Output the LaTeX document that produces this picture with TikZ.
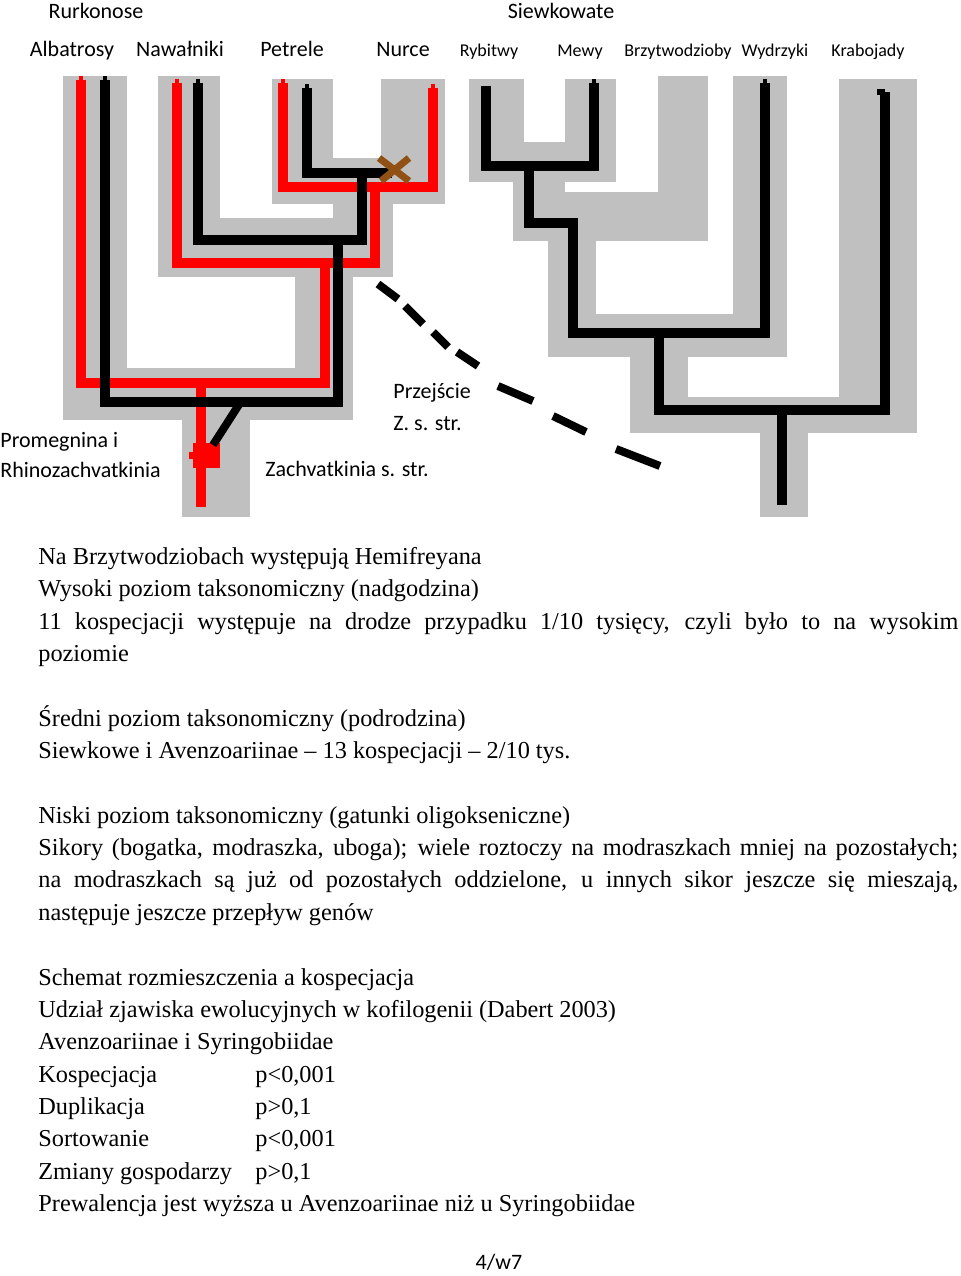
\documentclass[tikz,border=0pt]{standalone}
\usepackage{fontspec}
\setmainfont{Liberation Serif}
\newfontfamily\calibri{Carlito}
\definecolor{hostgray}{RGB}{192,192,192}
\definecolor{mitered}{RGB}{255,0,0}
\definecolor{mitebrown}{RGB}{145,80,20}
\tikzset{
  host/.style={fill=hostgray},
  redmite/.style={draw=mitered,line width=4.75pt,line join=miter},
  blackmite/.style={draw=black,line width=4.75pt,line join=miter},
  jump/.style={draw=black,line width=4pt},
  lost/.style={draw=mitebrown,line width=3.5pt},
  taxon/.style={font=\calibri\fontsize{11}{13}\selectfont,anchor=base,inner sep=0},
  smalltaxon/.style={font=\calibri\fontsize{9}{11}\selectfont,anchor=base,inner sep=0},
  mitename/.style={font=\calibri\fontsize{11}{13}\selectfont,anchor=base west,inner sep=0},
  bodytext/.style={font=\fontsize{12.15}{16}\selectfont,anchor=base west,inner sep=0}
}
\begin{document}
\begin{tikzpicture}[x=0.5pt,y=-0.5pt]
  \fill[white] (0,0) rectangle (960,1276);
  \useasboundingbox (0,0) rectangle (960,1276);
  % host tree: Rurkonose
  \foreach \xa/\ya/\xb/\yb in {63/76/127/420, 63/368/353/420, 182/420/250/517,
      158/76/220/277, 158/218/393/277, 295/277/353/368, 272/79/333/204,
      272/158/445/204, 381/79/445/204, 333/204/393/218} {
    \fill[host] (\xa,\ya) rectangle (\xb,\yb);
  }
  % host tree: Siewkowe
  \foreach \xa/\ya/\xb/\yb in {469/79/524/182, 565/79/616/182, 469/142/616/182,
      513/182/565/241, 513/192/708/241, 658/76/708/241, 548/241/596/357,
      733/76/787/357, 548/314/787/357, 630/357/688/433, 630/397/917/433,
      839/79/917/433, 760/433/808/517} {
    \fill[host] (\xa,\ya) rectangle (\xb,\yb);
  }
  % red mites
  \draw[redmite] (81,80) |- (325,383) -- (325,263);
  \draw[redmite] (177,83) |- (375,263) -- (375,187);
  \draw[redmite] (283,83) |- (433,187) -- (433,88);
  \draw[redmite] (201,383) -- (201,507);
  \fill[mitered] (193,443) rectangle (220,468);
  \fill[mitered] (189,452) rectangle (194,459);
  % black mites
  \draw[blackmite] (105,80) |- (338,402) -- (338,240);
  \draw[blackmite] (198,83) |- (362,240) -- (362,173);
  \draw[blackmite] (307,88) |- (392,173);
  \draw[jump] (240,403) -- (213,445);
  \draw[blackmite] (486,86) |- (594,166) -- (594,83);
  \draw[blackmite] (529,166) |- (573,223) |- (765,333) -- (765,83);
  \draw[blackmite] (659,333) |- (885,410) -- (885,92);
  \draw[blackmite] (782,410) -- (782,505);
  % tips
  \foreach \x/\y in {81/80, 177/83, 283/83, 433/88} {
    \fill[mitered] (\x-2,\y-4) rectangle (\x+2,\y);
  }
  \foreach \x/\y in {105/80, 198/83, 307/88, 594/83, 765/83} {
    \fill[black] (\x-2,\y-4) rectangle (\x+2,\y);
  }
  \fill[black] (877,89) rectangle (885,95);
  % extinct lineage
  \draw[lost] (379,158) -- (409,181);
  \draw[lost] (409,158) -- (381,181);
  % host switch
  \foreach \xa/\ya/\xb/\yb in {378/284/398/299, 405/306/423/324, 433/332/448/347,
      457/352/478/366, 498/386/533/401, 553/416/586/432, 616/449/660/466} {
    \draw[jump] (\xa,\ya) -- (\xb,\yb);
  }
  % host names
  \node[taxon] (rurkonose) at (96,18) {Rurkonose};
  \node[taxon] (siewkowate) at (561,18) {Siewkowate};
  \node[taxon] (albatrosy) at (72,56) {Albatrosy};
  \node[taxon] (nawalniki) at (180,56) {Nawałniki};
  \node[taxon] (petrele) at (292,56) {Petrele};
  \node[taxon] (nurce) at (403,56) {Nurce};
  \node[smalltaxon] (rybitwy) at (489,56) {Rybitwy};
  \node[smalltaxon] (mewy) at (580,56) {Mewy};
  \node[smalltaxon] (brzytwodzioby) at (678,56) {Brzytwodzioby};
  \node[smalltaxon] (wydrzyki) at (775,56) {Wydrzyki};
  \node[smalltaxon] (krabojady) at (868,56) {Krabojady};
  % mite names
  \node[mitename] (promegnina) at (0,447) {Promegnina i};
  \node[mitename] (rhino) at (0,477) {Rhinozachvatkinia};
  \node[mitename] (przejscie) at (393,398) {Przejście};
  \node[mitename] (zss) at (393,430) {Z. s. str.};
  \node[mitename] (zachv) at (265,476) {Zachvatkinia s. str.};
  % notes
  \node[bodytext] (l1) at (38,564) {Na Brzytwodziobach występują Hemifreyana};
  \node[bodytext] (l2) at (38,596) {Wysoki poziom taksonomiczny (nadgodzina)};
  \node[bodytext] (l3) at (38,629) {\makebox[460pt][s]{11 kospecjacji występuje na drodze przypadku 1/10 tysięcy, czyli było to na wysokim}};
  \node[bodytext] (l4) at (38,661) {poziomie};
  \node[bodytext] (l5) at (38,726) {Średni poziom taksonomiczny (podrodzina)};
  \node[bodytext] (l6) at (38,758) {Siewkowe i Avenzoariinae – 13 kospecjacji – 2/10 tys.};
  \node[bodytext] (l7) at (38,823) {Niski poziom taksonomiczny (gatunki oligokseniczne)};
  \node[bodytext] (l8) at (38,855) {\makebox[460pt][s]{Sikory (bogatka, modraszka, uboga); wiele roztoczy na modraszkach mniej na pozostałych;}};
  \node[bodytext] (l9) at (38,887) {\makebox[460pt][s]{na modraszkach są już od pozostałych oddzielone, u innych sikor jeszcze się mieszają,}};
  \node[bodytext] (l10) at (38,920) {następuje jeszcze przepływ genów};
  \node[bodytext] (l11) at (38,985) {Schemat rozmieszczenia a kospecjacja};
  \node[bodytext] (l12) at (38,1017) {Udział zjawiska ewolucyjnych w kofilogenii (Dabert 2003)};
  \node[bodytext] (l13) at (38,1049) {Avenzoariinae i Syringobiidae};
  \node[bodytext] (l14) at (38,1082) {\makebox[108.5pt][l]{Kospecjacja}p<0,001};
  \node[bodytext] (l15) at (38,1114) {\makebox[108.5pt][l]{Duplikacja}p>0,1};
  \node[bodytext] (l16) at (38,1146) {\makebox[108.5pt][l]{Sortowanie}p<0,001};
  \node[bodytext] (l17) at (38,1179) {\makebox[108.5pt][l]{Zmiany gospodarzy}p>0,1};
  \node[bodytext] (l18) at (38,1211) {Prewalencja jest wyższa u Avenzoariinae niż u Syringobiidae};
  \node[taxon] (page) at (499,1269) {4/w7};
\end{tikzpicture}
\end{document}
